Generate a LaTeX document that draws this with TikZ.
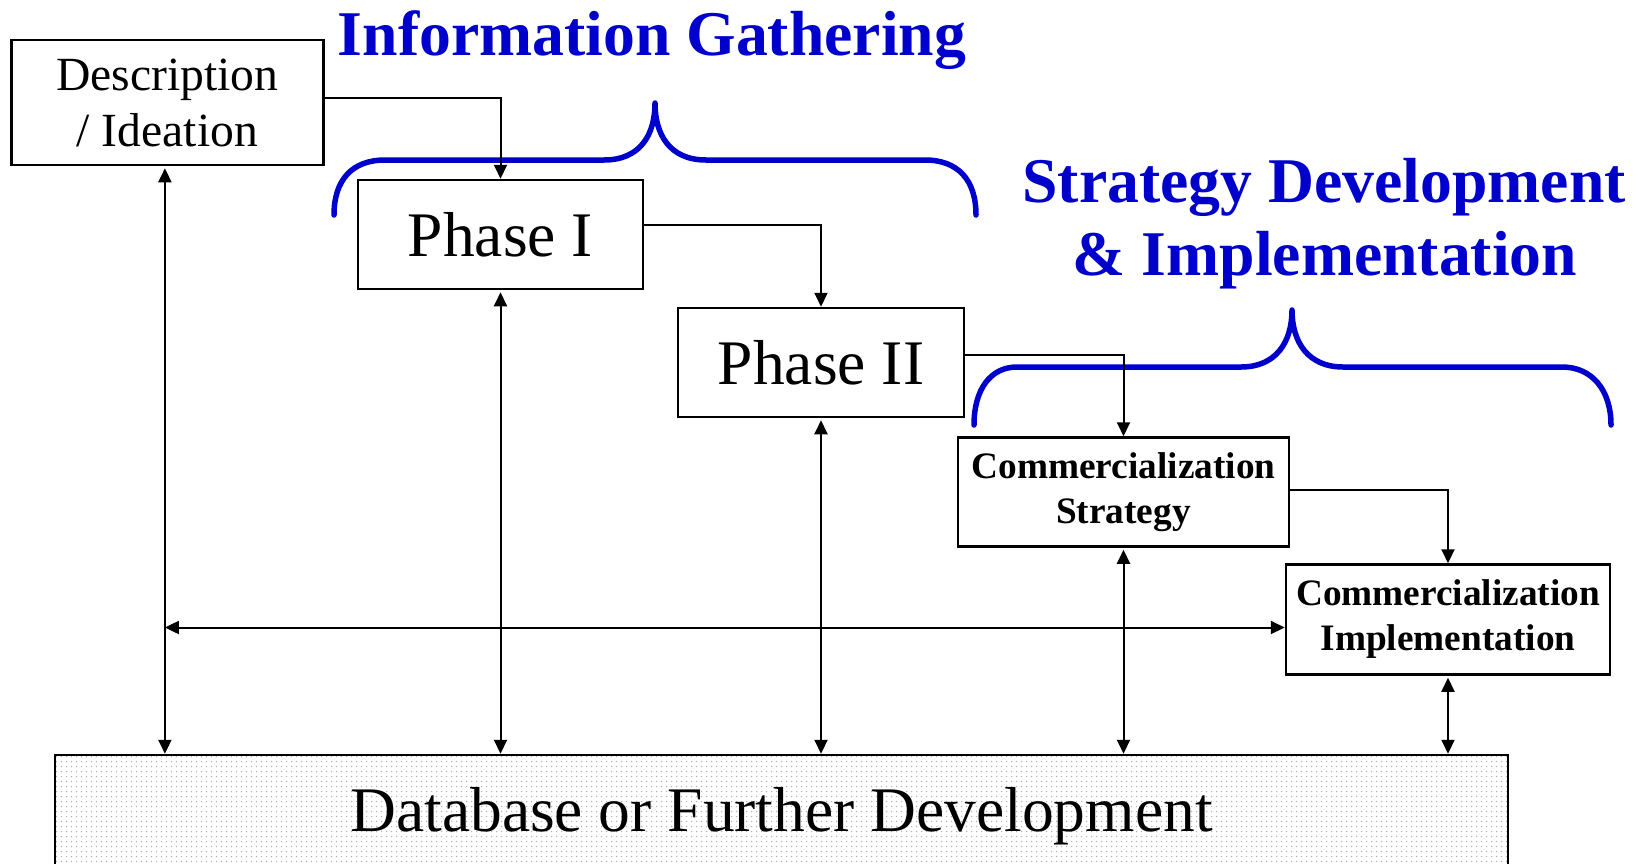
\documentclass[tikz,border=0pt]{standalone}
\usepackage{fontspec}
\setmainfont{Liberation Serif}
\usetikzlibrary{arrows.meta,patterns,calc}
\definecolor{bblue}{RGB}{0,0,204}
\pgfdeclarepatternformonly{sdots}{\pgfqpoint{-1pt}{-1pt}}{\pgfqpoint{4pt}{4pt}}{\pgfqpoint{5pt}{5pt}}{\pgfpathcircle{\pgfqpoint{1.5pt}{1.5pt}}{0.75pt}\pgfusepath{fill}}
\tikzset{
  box/.style={draw=black, line width=2.5pt, inner sep=0pt, align=center, rectangle},
  fdesc/.style={font=\fontsize{47.6}{56}\selectfont},
  fphase/.style={font=\fontsize{63.5}{70}\selectfont},
  fcomm/.style={font=\bfseries\fontsize{37.3}{45}\selectfont},
  ftitle/.style={font=\bfseries\fontsize{63.7}{73}\selectfont, text=bblue, inner sep=0pt},
  conn/.style={line width=2pt, -{Triangle[length=14pt,width=13pt]}},
  dbl/.style={line width=2pt, {Triangle[length=14pt,width=13pt]}-{Triangle[length=14pt,width=13pt]}, shorten <=2pt},
  brace/.style={draw=bblue, line width=5.5pt, line cap=round, line join=round}
}
\begin{document}
\begin{tikzpicture}[x=1pt,y=-1pt]
\useasboundingbox (0,0) rectangle (1646,863);
\fill[white] (0,0) rectangle (1646,863);

% boxes
\node[box, fdesc, minimum width=311.8pt, minimum height=125pt] (desc) at (167.4,102.5) {Description\\/ Ideation};
\node[box, fphase, minimum width=285pt, minimum height=109pt] (p1) at (500.5,234.5) {Phase I};
\node[box, fphase, minimum width=286pt, minimum height=109pt] (p2) at (821,362.5) {Phase II};
\node[box, fcomm, minimum width=331pt, minimum height=109pt] (cs) at (1123.5,492) {Commercialization\\Strategy};
\node[box, fcomm, minimum width=324pt, minimum height=110pt] (ci) at (1448,619.5) {Commercialization\\Implementation};
\node[box, fphase, pattern=sdots, pattern color=black!30, minimum width=1453pt, minimum height=131pt] (db) at (781.5,820.5) {\raisebox{-10.5pt}[0pt][0pt]{Database or Further Development}};

% titles
\node[ftitle, anchor=base] (t1) at (652,55) {Information Gathering};
\node[ftitle, anchor=base] (t2) at (1324,202) {Strategy Development};
\node[ftitle, anchor=base] (t3) at (1325,275) {\& Implementation};

% braces
\draw[brace] (334,215) .. controls (334,180) and (352,160) .. (385,160) -- (604,160)
  .. controls (640,160) and (655,135) .. (655,103)
  .. controls (655,135) and (670,160) .. (706,160) -- (925,160)
  .. controls (958,160) and (976,180) .. (976,215);
\draw[brace] (974,425) .. controls (974,390) and (990,367) .. (1017,367) -- (1241,367)
  .. controls (1276,367) and (1292,342) .. (1292,310)
  .. controls (1292,342) and (1308,367) .. (1343,367) -- (1562,367)
  .. controls (1592,367) and (1611,390) .. (1611,425);

% flow connectors
\draw[conn] ([yshift=4.5pt]desc.east) -| (p1.north);
\draw[conn] ([yshift=9.5pt]p1.east) -| (p2.north);
\draw[conn] ([yshift=7.5pt]p2.east) -| (cs.north);
\draw[conn] ([yshift=2pt]cs.east) -| (ci.north);

% vertical double arrows
\coordinate (dv) at ([xshift=-2.5pt]desc.south);
\draw[dbl] (dv) -- (dv |- db.north);
\draw[dbl] (p1.south) -- (p1.south |- db.north);
\draw[dbl] (p2.south) -- (p2.south |- db.north);
\draw[dbl] (cs.south) -- (cs.south |- db.north);
\draw[dbl] (ci.south) -- (ci.south |- db.north);

% horizontal double arrow
\path ([yshift=-8pt]ci.west) coordinate (cw);
\draw[dbl, shorten <=0pt] (dv |- cw) -- (cw);
\end{tikzpicture}
\end{document}
